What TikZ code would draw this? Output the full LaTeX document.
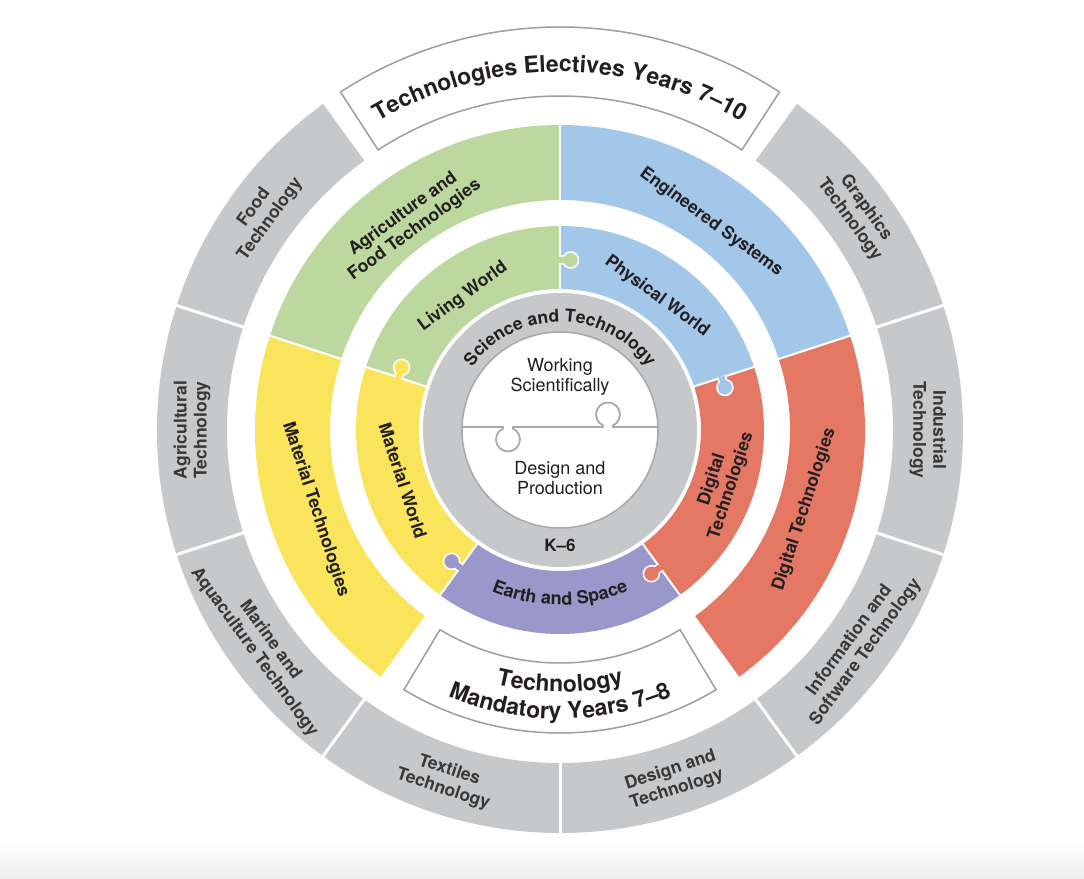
\documentclass[tikz,border=0pt]{standalone}
\usepackage{fontspec}
\setmainfont{TeX Gyre Heros}
\usetikzlibrary{decorations.text}

\definecolor{ringgray}{HTML}{C7C8CA}
\definecolor{boxgray}{HTML}{9E9E9E}
\definecolor{linegray}{HTML}{A9A9A9}
\definecolor{agrigreen}{HTML}{BDD89F}
\definecolor{engblue}{HTML}{A3C7E9}
\definecolor{digired}{HTML}{E47865}
\definecolor{matyellow}{HTML}{F9E45C}
\definecolor{earthpurple}{HTML}{9A98CA}
\definecolor{labeltext}{HTML}{231F20}
\definecolor{graytext}{HTML}{383838}

\newcommand{\annseg}[5]{\path[#1] (#2:#5) arc[start angle=#2, end angle=#3, radius=#5] -- (#3:#4) arc[start angle=#3, end angle=#2, radius=#4] -- cycle;}
\newcommand{\knob}[2]{\begin{scope}[rotate=#1]
    \path[fill=#2, draw=white, line width=1.5] (166,1) -- (166,-3.6) arc[start angle=120, end angle=420, radius=8] -- (174,1);
  \end{scope}}

\tikzset{
  seglabel/.style={font=\bfseries\fontsize{17.5}{20}\selectfont, text=labeltext, align=center, inner sep=0pt},
  graylabel/.style={seglabel, text=graytext},
  centerlabel/.style={font=\fontsize{18}{20}\selectfont, text=labeltext, align=center, inner sep=0pt},
  cut/.style={draw=white, line width=#1},
  cut/.default=3,
  arctext/.style={decorate, decoration={text along path, text align=center, text color=labeltext, text={#1}}}
}

\begin{document}
\begin{tikzpicture}[x=1pt, y=1pt]
  \useasboundingbox (-560,-448) rectangle (524,430);
  \fill[white] (-560,-448) rectangle (524,430);
  \shade[top color=white, bottom color=black!7] (-560,-448) rectangle (524,-412);

  \annseg{fill=ringgray}{126}{414}{333}{403}
  \foreach \a in {162,198,...,378} \draw[cut] (\a:330) -- (\a:406);
  \annseg{fill=white, draw=boxgray, line width=1.5}{57}{123}{334}{403}

  \annseg{fill=matyellow}{162}{234}{230}{305}
  \annseg{fill=agrigreen}{90}{162}{230}{305}
  \annseg{fill=engblue}{18}{90}{230}{305}
  \annseg{fill=digired}{-54}{18}{230}{305}
  \foreach \a in {18,90,162} \draw[cut=2] (\a:228) -- (\a:307);
  \annseg{fill=white, draw=boxgray, line width=1.5}{239}{301}{233}{303}

  \annseg{fill=agrigreen}{90}{162}{141}{204}
  \annseg{fill=matyellow}{162}{234}{141}{204}
  \annseg{fill=earthpurple}{234}{306}{141}{204}
  \annseg{fill=digired}{-54}{18}{141}{204}
  \annseg{fill=engblue}{18}{90}{141}{204}
  \foreach \a in {18,90,...,306} \draw[cut=2] (\a:139) -- (\a:206);
  \knob{90}{agrigreen}
  \knob{162}{matyellow}
  \knob{234}{earthpurple}
  \knob{306}{digired}
  \knob{18}{engblue}

  \fill[ringgray] (0,0) circle (137);
  \draw[linegray, line width=1.5, fill=white] (0,0) circle (98);
  \draw[linegray, line width=1.8] (-98,3) -- (-57,3) -- (-57,1.4) arc[start angle=114.6, end angle=425.4, radius=12] -- (-47,3)
    -- (43,3) -- (43,4.6) arc[start angle=245.4, end angle=-65.4, radius=12] -- (53,3) -- (98,3);

  \foreach \ang/\rot/\nm/\txt in {144/54/food/{Food\\Technology}, 180/90/agri/{Agricultural\\Technology},
      216/-54/marine/{Marine and\\Aquaculture Technology}, 252/-18/textiles/{Textiles\\Technology},
      288/18/design/{Design and\\Technology}, 324/54/infosoft/{Information and\\Software Technology},
      0/-90/industrial/{Industrial\\Technology}, 36/-54/graphics/{Graphics\\Technology}}
    \node[graylabel, rotate=\rot] (\nm) at (\ang:368) {\txt};

  \foreach \ang/\rot/\nm/\txt in {126/36/agrifood/{Agriculture and\\Food Technologies}, 54/-36/engsys/{Engineered Systems},
      342/72/digitech/{Digital Technologies}, 198/-72/mattech/{Material Technologies}}
    \node[seglabel, rotate=\rot] (\nm) at (\ang:257) {\txt};

  \node[seglabel, rotate=36] (living) at (126:165) {Living World};
  \node[seglabel, rotate=-36] (physical) at (54:165) {Physical World};
  \node[seglabel, rotate=72] (digital) at (-18:170) {Digital\\Technologies};
  \node[seglabel, rotate=-72] (material) at (198:165) {Material World};

  \path[arctext={|\bfseries\fontsize{23}{25}\selectfont|Technologies Electives Years 7–10}] (123:358) arc[start angle=123, end angle=57, radius=358];
  \path[arctext={|\bfseries\fontsize{23}{25}\selectfont|Technology}] (242:262) arc[start angle=242, end angle=298, radius=262];
  \path[arctext={|\bfseries\fontsize{23}{25}\selectfont|Mandatory Years 7–8}] (240:289) arc[start angle=240, end angle=300, radius=289];
  \path[arctext={|\bfseries\fontsize{18}{20}\selectfont|Earth and Space}] (240:175) arc[start angle=240, end angle=300, radius=175];
  \path[arctext={|\bfseries\fontsize{17.5}{19}\selectfont|Science and Technology}] (155:108) arc[start angle=155, end angle=25, radius=108];

  \node[seglabel, font=\bfseries\fontsize{17}{19}\selectfont] (ksix) at (0,-115) {K–6};
  \node[centerlabel] (working) at (0,53) {Working\\Scientifically};
  \node[centerlabel] (designprod) at (0,-48) {Design and\\Production};
\end{tikzpicture}
\end{document}
